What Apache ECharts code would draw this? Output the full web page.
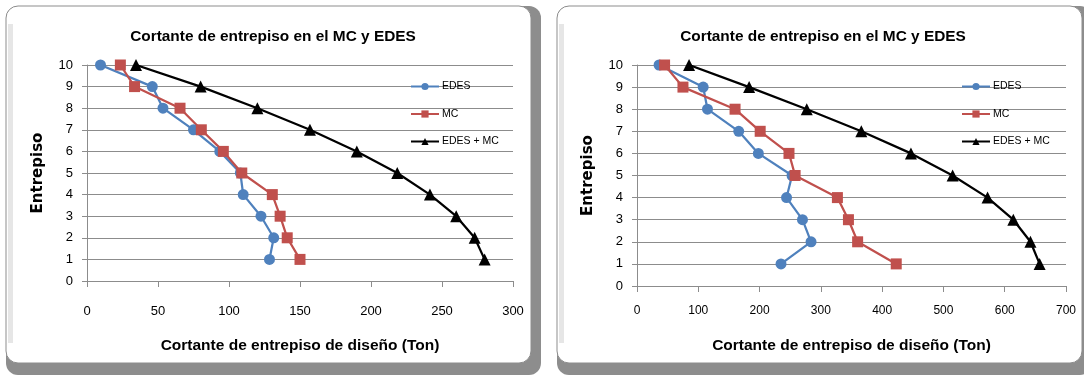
<!DOCTYPE html>
<html><head><meta charset="utf-8">
<script src="https://cdn.jsdelivr.net/npm/echarts@6/dist/echarts.min.js"></script>
<style>html,body{margin:0;padding:0;background:#fff}#c{width:1084px;height:377px}</style>
</head><body><div id="c"></div>
<script>
// Floors (entrepiso), from 10 down to 1
const floors = [10, 9, 8, 7, 6, 5, 4, 3, 2, 1];
// Left chart values (Ton)
const leftEDES = [9.5, 46, 53.5, 75, 93.5, 108, 110, 122.5, 131.5, 128.5];
const leftMC   = [23.5, 33.5, 65.5, 80.5, 96, 109, 130.5, 136, 141, 150];
const leftSum  = [34.5, 80, 120, 157, 190, 218.5, 241.5, 260, 273, 280];
// Right chart values (Ton)
const rightEDES = [36, 108, 115, 166, 198, 253, 244, 270, 284, 235];
const rightMC   = [45, 75, 160, 201, 248, 258, 327, 345, 360, 423];
const rightSum  = [85, 183, 277, 366, 447, 515, 572, 614, 642, 657];
const seriesNames = ['EDES', 'MC', 'EDES + MC'];
const chartTitle = 'Cortante de entrepiso en el MC y EDES';
const xTitle = 'Cortante de entrepiso de diseño (Ton)';
const yTitle = 'Entrepiso';

const SANS = "'Liberation Sans', sans-serif";
const colors = ['#4F81BD', '#C0504D', '#000000'];
const symbols = ['circle', 'rect', 'triangle'];
const sizes = [11, 11, 12];

function pairs(xs) { return xs.map((v, i) => [v, floors[i]]); }

const grids = [
  {left: 87, top: 65, width: 426, height: 216},
  {left: 637, top: 65, width: 429, height: 221}
];
const xMax = [300, 700], xInt = [50, 100];
const xLabelSize = [13, 12], xMargin = [24, 19], xNameGap = [57, 52];

function panel(x, y, w, h) {
  return [
    {type: 'rect', shape: {x: x, y: y, width: w, height: h, r: 12}, style: {fill: '#8d8d8d'}, z: -10},
    {type: 'rect', shape: {x: x, y: y, width: w - 10, height: h - 12, r: 12}, style: {fill: '#ffffff', stroke: '#8d8d8d', lineWidth: 1}, z: -9},
    {type: 'rect', shape: {x: x + 2, y: y + 18, width: 5, height: h - 50}, style: {fill: '#e6e6e6'}, z: -8}
  ];
}

const option = {
  animation: false,
  backgroundColor: '#ffffff',
  graphic: [].concat(panel(6, 6, 535, 369), panel(557, 6, 535, 369)),
  title: [
    {text: chartTitle, left: 268, top: 24, textAlign: 'center', textStyle: {fontFamily: SANS, fontWeight: 'bold', fontSize: 15.4, color: '#000'}},
    {text: chartTitle, left: 818, top: 24, textAlign: 'center', textStyle: {fontFamily: SANS, fontWeight: 'bold', fontSize: 15.4, color: '#000'}}
  ],
  legend: [0, 1].map(k => ({
    orient: 'vertical',
    left: k === 0 ? 410 : 961,
    top: 81,
    padding: 0,
    itemWidth: 28, itemHeight: 9, itemGap: 16.5,
    textStyle: {fontFamily: SANS, fontSize: 10.5, lineHeight: 10, color: '#000', padding: [0, 0, 0, -2]},
    data: seriesNames.map(n => ({name: n + (k ? ' ' : '')}))
  })),
  grid: grids,
  xAxis: [0, 1].map(k => ({
    type: 'value', gridIndex: k, min: 0, max: xMax[k], interval: xInt[k],
    name: xTitle, nameLocation: 'middle', nameGap: xNameGap[k],
    nameTextStyle: {fontFamily: SANS, fontWeight: 'bold', fontSize: 15.5, color: '#000'},
    axisLine: {show: true, lineStyle: {color: '#8c8c8c', width: 1}},
    axisTick: {show: true, inside: false, length: 6, lineStyle: {color: '#8c8c8c'}},
    axisLabel: {fontFamily: SANS, fontSize: xLabelSize[k], color: '#000', margin: xMargin[k]},
    splitLine: {show: false}
  })),
  yAxis: [0, 1].map(k => ({
    type: 'value', gridIndex: k, min: 0, max: 10, interval: 1,
    name: yTitle, nameLocation: 'middle', nameGap: 41, nameRotate: 90,
    nameTextStyle: {fontFamily: "'DejaVu Sans', sans-serif", fontWeight: 'bold', fontSize: 15, color: '#000'},
    axisLine: {show: true, lineStyle: {color: '#8c8c8c', width: 1}},
    axisTick: {show: true, inside: false, length: 5, lineStyle: {color: '#8c8c8c'}},
    axisLabel: {fontFamily: SANS, fontSize: 13, color: '#000', margin: 14},
    splitLine: {show: true, lineStyle: {color: '#8c8c8c', width: 1}}
  })),
  series: []
};

const sets = [[leftEDES, leftMC, leftSum], [rightEDES, rightMC, rightSum]];
[0, 1].forEach(k => {
  sets[k].forEach((vals, i) => {
    option.series.push({
      type: 'line',
      name: seriesNames[i] + (k ? ' ' : ''),
      xAxisIndex: k, yAxisIndex: k,
      data: pairs(vals),
      symbol: symbols[i], symbolSize: sizes[i],
      showAllSymbol: true,
      lineStyle: {color: colors[i], width: 2.25},
      itemStyle: {color: colors[i], borderWidth: 0},
      emphasis: {disabled: true}
    });
  });
});

const chart = echarts.init(document.getElementById('c'), null, {renderer: 'canvas'});
chart.setOption(option);
</script></body></html>
